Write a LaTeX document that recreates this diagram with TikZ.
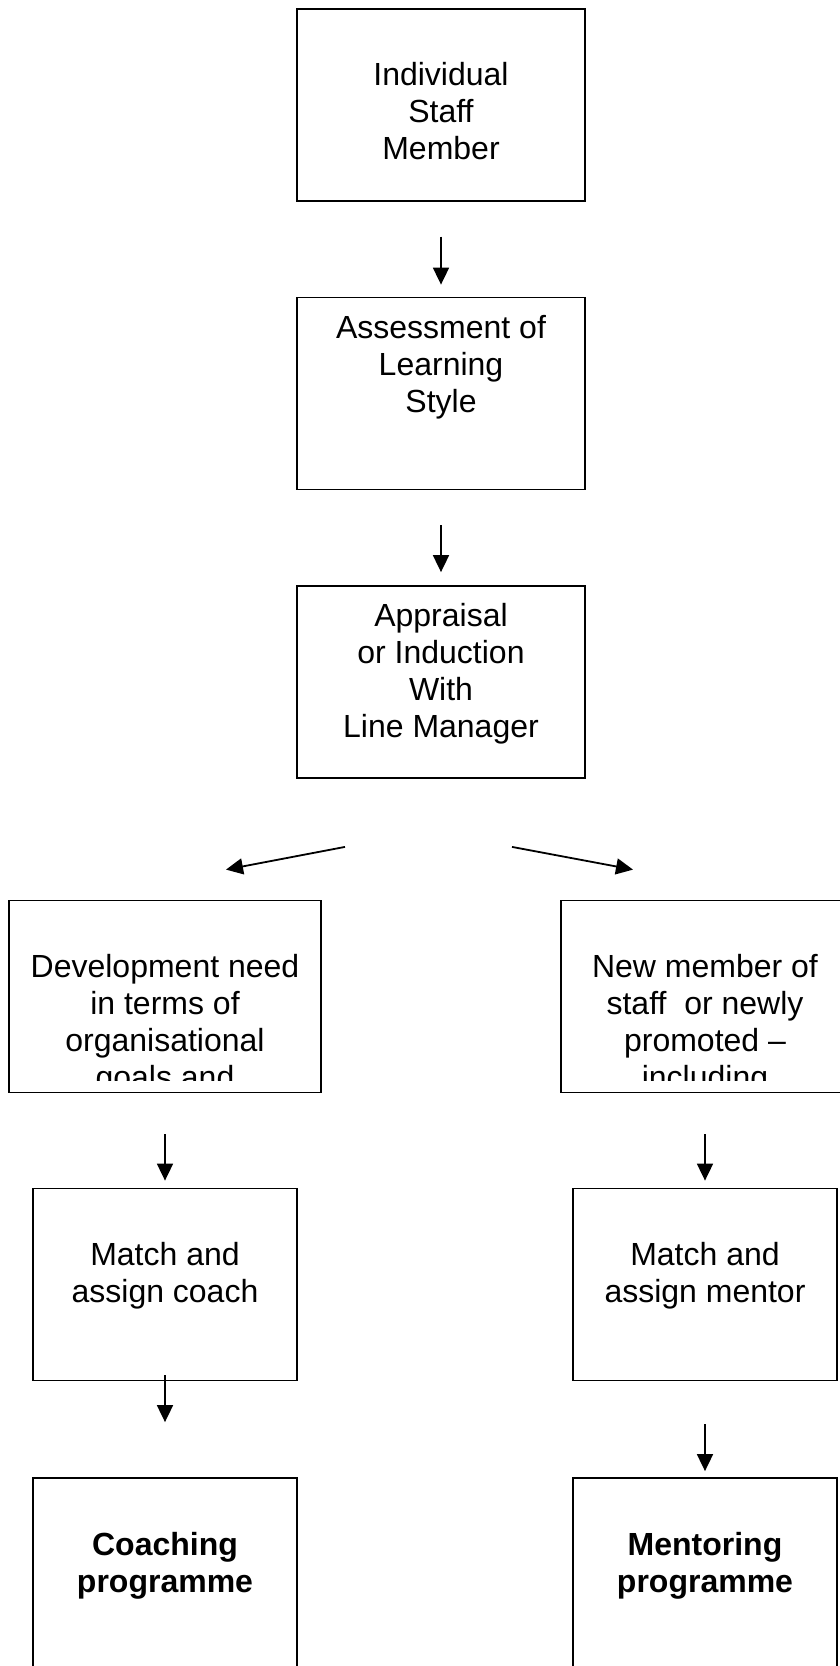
\documentclass[tikz,border=0pt]{standalone}
\usepackage{fontspec}
\setmainfont{Liberation Sans}
\usetikzlibrary{arrows.meta}

\begin{document}
\begin{tikzpicture}[x=0.5pt,y=-0.5pt,
  box/.style={draw,line width=0.9pt,minimum width=#1,minimum height=96pt,inner sep=0pt},
  txt/.style={anchor=north,align=center,inner sep=0pt,font=\fontsize{16}{18.5}\selectfont},
  arr/.style={-{Triangle[length=8.5pt,width=8pt]},line width=0.9pt}]

\useasboundingbox (0,0) rectangle (840,1666);

% boxes
\node[box=144pt] (member) at (441,104.6) {};
\node[box=144pt] (style) at (441,393.5) {};
\node[box=144pt] (appraisal) at (441,682) {};
\node[box=156pt] (need) at (165,996.5) {};
\node[box=144pt] (newstaff) at (705,996.5) {};
\node[box=132pt] (coach) at (165,1284.5) {};
\node[box=132pt] (mentor) at (705,1284.5) {};
\node[box=132pt,minimum height=111pt] (coaching) at (165,1589) {};
\node[box=132pt,minimum height=111pt] (mentoring) at (705,1589) {};

% texts
\node[txt] (memberT) at ([yshift=-27.3pt]member.north) {Individual\\Staff\\Member};
\node[txt] (styleT) at ([yshift=-9pt]style.north) {Assessment of\\Learning\\Style};
\node[txt] (appraisalT) at ([yshift=-9pt]appraisal.north) {Appraisal\\or Induction\\With\\Line Manager};
\begin{scope}
\clip (0,880) rectangle (840,1080);
\node[txt] (needT) at ([yshift=-27.3pt]need.north) {Development need\\in terms of\\organisational\\goals and};
\node[txt] (newstaffT) at ([yshift=-27.3pt]newstaff.north) {New member of\\staff\ \ or newly\\promoted \textendash\\including};
\end{scope}
\node[txt] (coachT) at ([yshift=-27.3pt]coach.north) {Match and\\assign coach};
\node[txt] (mentorT) at ([yshift=-27.3pt]mentor.north) {Match and\\assign mentor};
\node[txt,font=\fontsize{16}{18.5}\selectfont\bfseries] (coachingT) at ([yshift=-27.3pt]coaching.north) {Coaching\\programme};
\node[txt,font=\fontsize{16}{18.5}\selectfont\bfseries] (mentoringT) at ([yshift=-27.3pt]mentoring.north) {Mentoring\\programme};

% arrows
\draw[arr] ([yshift=-17.5pt]member.south) -- ([yshift=6pt]style.north);
\draw[arr] ([yshift=-17.5pt]style.south) -- ([yshift=6.5pt]appraisal.north);
\draw[arr] ([xshift=-48pt,yshift=-34pt]appraisal.south) -- ([xshift=30.5pt,yshift=15pt]need.north);
\draw[arr] ([xshift=35.5pt,yshift=-34pt]appraisal.south) -- ([xshift=-36pt,yshift=15pt]newstaff.north);
\draw[arr] ([yshift=-20.5pt]need.south) -- ([yshift=3.5pt]coach.north);
\draw[arr] ([yshift=-20.5pt]newstaff.south) -- ([yshift=3.5pt]mentor.north);
\draw[arr] ([yshift=3pt]coach.south) -- ([yshift=27.5pt]coaching.north);
\draw[arr] ([yshift=-21.5pt]mentor.south) -- ([yshift=3pt]mentoring.north);
\end{tikzpicture}
\end{document}
